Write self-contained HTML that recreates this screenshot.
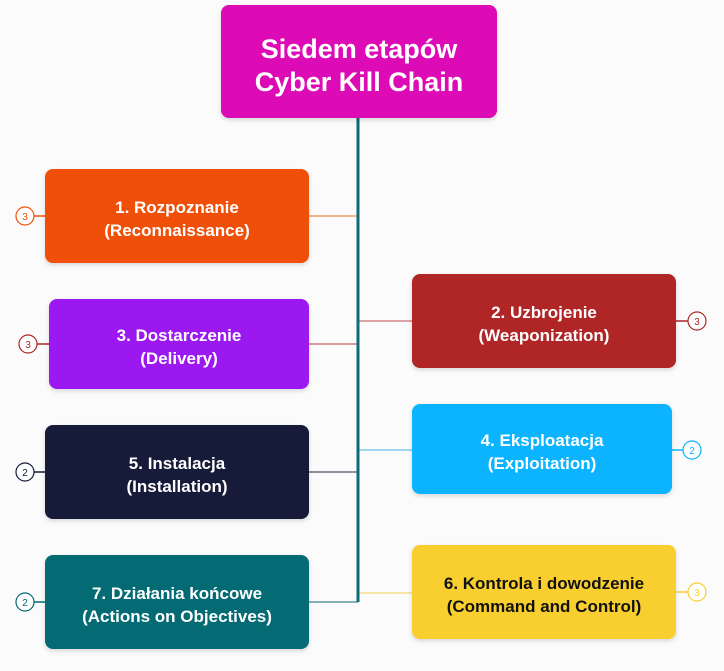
<!DOCTYPE html>
<html><head><meta charset="utf-8"><style>
body{margin:0;width:724px;height:671px;background:#fbfbfb;position:relative;overflow:hidden;font-family:"Liberation Sans",sans-serif}
.b{position:absolute;box-sizing:border-box;padding-top:5px;border-radius:8px;color:#fff;font-weight:bold;font-size:17px;line-height:23px;display:flex;align-items:center;justify-content:center;text-align:center;box-shadow:0 2px 5px rgba(0,0,0,.15)}
svg{position:absolute;left:0;top:0}
</style></head><body>
<svg width="724" height="671">
<g stroke-width="1.5" fill="none">
<line x1="309" y1="216" x2="358" y2="216" stroke="#f39a6c"/>
<line x1="309" y1="344" x2="358" y2="344" stroke="#c98080"/>
<line x1="309" y1="472" x2="358" y2="472" stroke="#6a6d80"/>
<line x1="309" y1="602" x2="358" y2="602" stroke="#5a9aa2"/>
<line x1="358" y1="321" x2="412" y2="321" stroke="#d08585"/>
<line x1="358" y1="450" x2="412" y2="450" stroke="#82ccf0"/>
<line x1="358" y1="593" x2="412" y2="593" stroke="#f5dc88"/>
<line x1="34" y1="216" x2="45" y2="216" stroke="#ef4f08"/>
<line x1="37" y1="344" x2="49" y2="344" stroke="#b02526"/>
<line x1="34" y1="472" x2="45" y2="472" stroke="#161b3a"/>
<line x1="34" y1="602" x2="45" y2="602" stroke="#046b74"/>
<line x1="676" y1="321" x2="688" y2="321" stroke="#b02526"/>
<line x1="672" y1="450" x2="683" y2="450" stroke="#0cb4ff"/>
<line x1="676" y1="592" x2="688" y2="592" stroke="#f8cf2e"/>
</g>
<line x1="358" y1="118" x2="358" y2="602" stroke="#0e6b78" stroke-width="3"/>
<g fill="#fff" stroke-width="1.2" font-family="Liberation Sans" font-size="10" text-anchor="middle">
<circle cx="25" cy="216" r="9" stroke="#ef4f08"/><text x="25" y="220" fill="#ef4f08" stroke="none">3</text>
<circle cx="28" cy="344" r="9" stroke="#b02526"/><text x="28" y="348" fill="#b02526" stroke="none">3</text>
<circle cx="25" cy="472" r="9" stroke="#161b3a"/><text x="25" y="476" fill="#161b3a" stroke="none">2</text>
<circle cx="25" cy="602" r="9" stroke="#046b74"/><text x="25" y="606" fill="#046b74" stroke="none">2</text>
<circle cx="697" cy="321" r="9" stroke="#b02526"/><text x="697" y="325" fill="#b02526" stroke="none">3</text>
<circle cx="692" cy="450" r="9" stroke="#0cb4ff"/><text x="692" y="454" fill="#0cb4ff" stroke="none">2</text>
<circle cx="697" cy="592" r="9" stroke="#f8cf2e"/><text x="697" y="596" fill="#f8cf2e" stroke="none">3</text>
</g>
</svg>
<div class="b" style="left:221px;top:5px;width:276px;height:113px;background:#dc0bb5;font-size:27px;line-height:33px;padding-top:8px">Siedem etapów<br>Cyber Kill Chain</div>
<div class="b" style="left:45px;top:169px;width:264px;height:94px;background:#ef4f08">1. Rozpoznanie<br>(Reconnaissance)</div>
<div class="b" style="left:49px;top:299px;width:260px;height:90px;background:#9b19f0">3. Dostarczenie<br>(Delivery)</div>
<div class="b" style="left:45px;top:425px;width:264px;height:94px;background:#161b3a">5. Instalacja<br>(Installation)</div>
<div class="b" style="left:45px;top:555px;width:264px;height:94px;background:#046b74">7. Działania końcowe<br>(Actions on Objectives)</div>
<div class="b" style="left:412px;top:274px;width:264px;height:94px;background:#b02526">2. Uzbrojenie<br>(Weaponization)</div>
<div class="b" style="left:412px;top:404px;width:260px;height:90px;background:#0cb4ff">4. Eksploatacja<br>(Exploitation)</div>
<div class="b" style="left:412px;top:545px;width:264px;height:94px;background:#f8cf2e;color:#111">6. Kontrola i dowodzenie<br>(Command and Control)</div>
</body></html>
